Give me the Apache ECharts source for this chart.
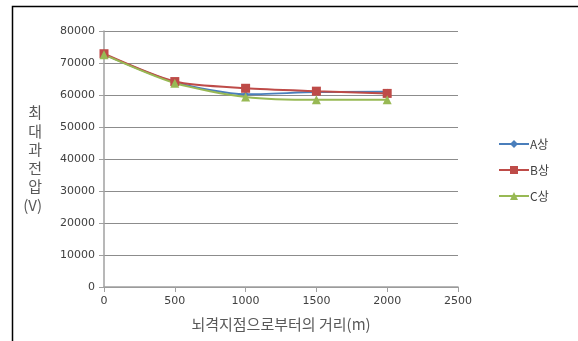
<!DOCTYPE html>
<html><head><meta charset="utf-8">
<script src="https://cdn.jsdelivr.net/npm/echarts@6/dist/echarts.min.js"></script>
<style>html,body{margin:0;padding:0;background:#fff}#c{width:578px;height:341px}</style>
</head><body><div id="c"></div>
<script>
const distances = [0, 500, 1000, 1500, 2000];
const seriesA = [72700, 64000, 60200, 60900, 61000];
const seriesB = [72900, 64200, 62100, 61200, 60500];
const seriesC = [72600, 63700, 59400, 58500, 58500];
const names = ['A상', 'B상', 'C상'];
const yTicks = [0, 10000, 20000, 30000, 40000, 50000, 60000, 70000, 80000];
const xTicks = [0, 500, 1000, 1500, 2000, 2500];

const chart = echarts.init(document.getElementById('c'), null, {renderer: 'canvas'});
const pair = arr => distances.map((d, i) => [d, arr[i]]);
const colors = ['#4A7EBB', '#BE4B48', '#98B954'];
const symbols = ['diamond', 'rect', 'triangle'];
const sizes = [6, 9, 9];
const datas = [seriesA, seriesB, seriesC];
const labelFont = {color: '#404040', fontSize: 11, fontFamily: 'DejaVu Sans', fontWeight: 'normal'};
const plain = v => String(v);

chart.setOption({
  animation: false,
  graphic: [{
    type: 'rect', shape: {x: 12.5, y: 6.5, width: 600, height: 400},
    style: {fill: 'none', stroke: '#000', lineWidth: 1.5}, silent: true
  }],
  grid: {left: 104, right: 120, top: 31, bottom: 54, containLabel: false},
  legend: {
    orient: 'vertical', left: 493, top: 133, itemGap: 14,
    itemWidth: 30, itemHeight: 10,
    textStyle: {color: '#404040', fontSize: 12, fontFamily: 'Noto Sans CJK KR', padding: [0, 0, 0, -4]},
    data: names
  },
  xAxis: {
    type: 'value', min: xTicks[0], max: xTicks[xTicks.length - 1], interval: 500,
    axisLine: {show: true, lineStyle: {color: '#A0A0A0', width: 1.5}},
    axisTick: {show: true, length: 5, lineStyle: {color: '#A0A0A0'}},
    splitLine: {show: false},
    axisLabel: Object.assign({margin: 9, formatter: plain}, labelFont),
    name: '뇌격지점으로부터의 거리(m)', nameLocation: 'middle', nameGap: 30,
    nameTextStyle: {color: '#595959', fontSize: 15, fontFamily: 'Noto Sans CJK KR'}
  },
  yAxis: {
    type: 'value', min: yTicks[0], max: yTicks[yTicks.length - 1], interval: 10000,
    axisLine: {show: true, lineStyle: {color: '#A0A0A0', width: 1.5}},
    axisTick: {show: true, length: 5, lineStyle: {color: '#A0A0A0'}},
    splitLine: {show: true, lineStyle: {color: '#8C8C8C', width: 1}},
    axisLabel: Object.assign({margin: 9, formatter: plain}, labelFont),
    name: '최\n대\n과\n전\n압\n(V)', nameLocation: 'middle', nameRotate: 0, nameGap: 62,
    nameTextStyle: {color: '#595959', fontSize: 15, lineHeight: 18.5, fontFamily: 'Noto Sans CJK KR', padding: [-10, 0, 0, 0]}
  },
  series: names.map((n, i) => ({
    name: n, type: 'line', data: pair(datas[i]),
    symbol: symbols[i], symbolSize: sizes[i], showSymbol: true,
    smooth: 0.25,
    lineStyle: {color: colors[i], width: 2},
    itemStyle: {color: colors[i]}
  }))
});
</script></body></html>
